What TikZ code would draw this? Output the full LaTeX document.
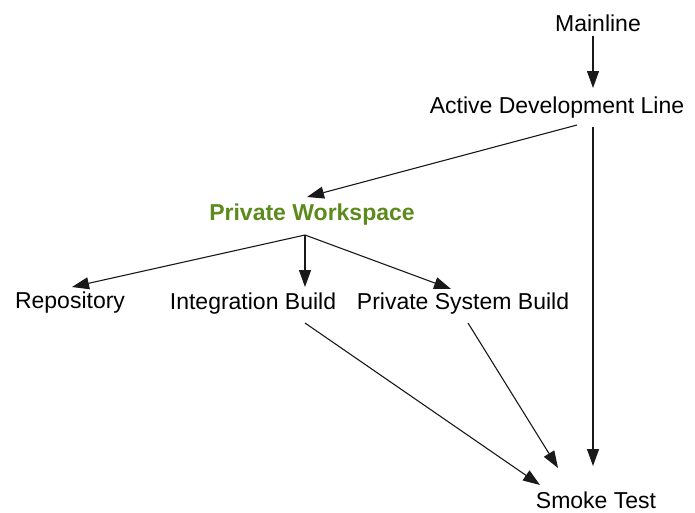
\documentclass[tikz,border=0pt]{standalone}
\usepackage{fontspec}
\setmainfont{Liberation Sans}
\usetikzlibrary{arrows.meta}
\definecolor{pwgreen}{RGB}{92,138,28}
\begin{document}
\begin{tikzpicture}[x=1pt,y=-1pt,
  lbl/.style={anchor=base,inner sep=0pt,font=\fontsize{23}{26}\selectfont},
  arr/.style={draw=black!90,line width=1.1pt,-{Triangle[length=17pt,width=12pt]}}]
\useasboundingbox (0,0) rectangle (695,512);
\node[lbl] (ml) at (598,31) {Mainline};
\node[lbl] (adl) at (557,113) {Active Development Line};
\node[lbl,text=pwgreen,font=\fontsize{23}{26}\selectfont\bfseries] (pw) at (312,220) {Private Workspace};
\node[lbl] (repo) at (70,308) {Repository};
\node[lbl] (ib) at (253,309) {Integration Build};
\node[lbl] (psb) at (463,309) {Private System Build};
\node[lbl] (smoke) at (596,508) {Smoke Test};
\draw[arr] ([shift={(-5,5)}]ml.base) -- ([shift={(36,-25)}]adl.base);
\draw[arr] ([shift={(20,12)}]adl.base) -- ([shift={(-5,-23)}]pw.base);
\draw[arr] ([shift={(36,14)}]adl.base) -- ([shift={(-3,-42)}]smoke.base);
\draw[arr] ([shift={(-7,15)}]pw.base) -- ([shift={(2,-21)}]repo.base);
\draw[arr] ([shift={(-7,15)}]pw.base) -- ([shift={(52,-22)}]ib.base);
\draw[arr] ([shift={(-7,15)}]pw.base) -- ([shift={(-12,-20)}]psb.base);
\draw[arr] ([shift={(52,14)}]ib.base) -- ([shift={(-56,-23)}]smoke.base);
\draw[arr] ([shift={(5,14)}]psb.base) -- ([shift={(-38,-40)}]smoke.base);
\end{tikzpicture}
\end{document}
